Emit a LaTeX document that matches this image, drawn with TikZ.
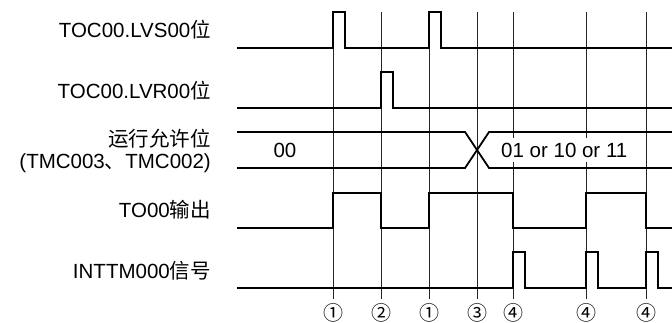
\documentclass[tikz,border=0pt]{standalone}
\usepackage{fontspec}
\setmainfont{Liberation Sans}
\newfontfamily\cjk{Noto Sans CJK SC}
\usetikzlibrary{positioning}

\begin{document}
\begin{tikzpicture}[
  x=1pt,y=-1pt,
  every node/.style={font=\fontsize{20.5}{23}\selectfont,inner sep=0pt},
  lbl/.style={anchor=base east},
  sig/.style={line width=1.8pt,line join=miter},
  grd/.style={line width=0.7pt,black!85},
  num/.style={font=\cjk\fontsize{20}{21}\selectfont}]

  \useasboundingbox (0,0) rectangle (672,322);

  % --- signal names
  \node[lbl] (lvs) at (211, 37) {TOC00.LVS00{\cjk 位}};
  \node[lbl] (lvr) at (211, 98) {TOC00.LVR00{\cjk 位}};
  \node[lbl] (ena) at (211,146) {\cjk 运行允许位};
  \node[lbl] (tmc) at (211,168) {(TMC003{\cjk 、}TMC002)};
  \node[lbl] (tout) at (211,217) {TO00{\cjk 输出}};
  \node[lbl] (intr) at (211,278) {INTTM000{\cjk 信号}};

  % --- timing guides with the event marks below
  \foreach \x/\n [count=\i] in {333/①,381/②,429/①,477/③,513/④,586/④,646/④}{
    \coordinate (g\i) at (\x,12);
    \node[num] (m\i) at (\x,312.5) {\n};
    \draw[grd] (g\i) -- (\x,299);
  }

  % --- TOC00.LVS00
  \draw[sig] (237,48) -- (333,48) -- (333,12) -- (345,12) -- (345,48)
    -- (429,48) -- (429,12) -- (441,12) -- (441,48) -- (672,48);

  % --- TOC00.LVR00
  \draw[sig] (237,108) -- (381,108) -- (381,72) -- (393,72) -- (393,108)
    -- (672,108);

  % --- run enable bits: bus with crossing at 3
  \draw[sig] (237,132) -- (465,132) -- (489,168) -- (672,168);
  \draw[sig] (237,168) -- (465,168) -- (489,132) -- (672,132);
  \node[anchor=base] (old) at (285,157) {00};
  \node[anchor=base west,fill=white,inner ysep=4.5pt,inner xsep=1pt]
    (new) at (500,157) {01 or 10 or 11};

  % --- TO00 output
  \draw[sig] (237,228) -- (333,228) -- (333,193) -- (381,193) -- (381,228)
    -- (429,228) -- (429,193) -- (513,193) -- (513,228) -- (586,228)
    -- (586,193) -- (646,193) -- (646,228) -- (672,228);

  % --- INTTM000 interrupt
  \draw[sig] (237,288) -- (513,288) -- (513,252) -- (525,252) -- (525,288)
    -- (586,288) -- (586,252) -- (598,252) -- (598,288)
    -- (646,288) -- (646,252) -- (658,252) -- (658,288) -- (672,288);
\end{tikzpicture}
\end{document}
